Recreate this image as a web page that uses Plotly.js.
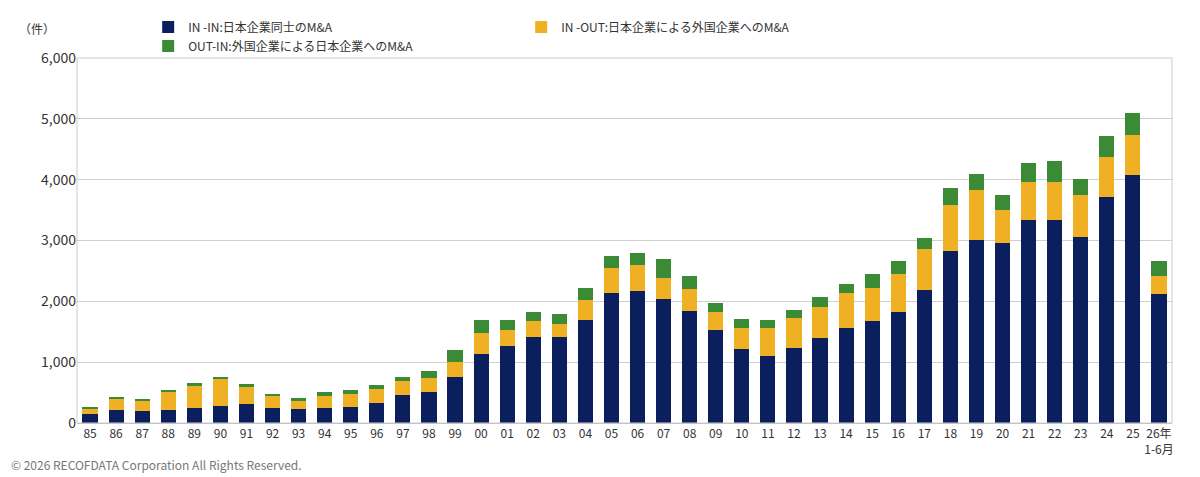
<!DOCTYPE html>
<html><head><meta charset="utf-8">
<script src="https://cdn.plot.ly/plotly-3.0.1.min.js"></script>
<style>body{margin:0;background:#fff}#graph{width:1200px;height:477px}</style>
</head><body><div id="graph"></div>
<script>
// years (tick labels)
let years = ["85","86","87","88","89","90","91","92","93","94","95","96","97","98","99",
  "00","01","02","03","04","05","06","07","08","09","10","11","12","13","14","15","16",
  "17","18","19","20","21","22","23","24","25","26年<br>1-6月"];
// IN-IN
let inIn = [156,220,199,220,242,274,306,253,237,253,263,328,457,516,753,
  1129,1258,1419,1419,1694,2145,2177,2032,1839,1532,1210,1097,1226,1403,1565,1677,1823,
  2194,2823,3016,2952,3339,3339,3065,3710,4081,2113];
// IN-OUT
let inOut = [81,178,167,296,382,452,302,193,118,188,221,237,226,231,258,
  355,274,258,210,322,403,420,355,371,291,355,468,500,500,564,549,629,
  661,758,807,548,629,629,677,661,661,306];
// OUT-IN
let outIn = [21,21,21,11,26,27,32,38,48,70,54,64,75,108,188,
  210,162,146,161,210,194,193,307,209,145,145,129,129,162,161,226,209,
  193,274,274,242,306,338,274,339,355,242];

let graphData = [
  {x: years, y: inIn, type: "bar", name: "IN -IN:日本企業同士のM&A", marker: {color: "#0b1f5e"}},
  {x: years, y: inOut, type: "bar", name: "IN -OUT:日本企業による外国企業へのM&A", marker: {color: "#efb023"}},
  {x: years, y: outIn, type: "bar", name: "OUT-IN:外国企業による日本企業へのM&A", marker: {color: "#3a8a36"}}
];

let layout = {
  barmode: "stack",
  bargap: 0.42,
  width: 1200, height: 477,
  margin: {l: 77, r: 28, t: 51, b: 54},
  font: {family: "Noto Sans CJK JP, Noto Sans, sans-serif", size: 13, color: "#333"},
  showlegend: true,
  legend: {orientation: "h", traceorder: "normal", x: 0.065, y: 1.125, xanchor: "left", yanchor: "top",
    bgcolor: "rgba(0,0,0,0)", font: {size: 12}, itemwidth: 30, entrywidth: 328, entrywidthmode: "pixels"},
  xaxis: {type: "category", tickangle: 0, showline: true, linecolor: "#bbb",
    tickfont: {size: 12}, ticks: "", automargin: false},
  yaxis: {range: [0, 6000], dtick: 1000, tickformat: ",", gridcolor: "#cfcfcf",
    showline: false, zeroline: true, zerolinecolor: "#bbb", tickfont: {size: 14}},
  shapes: [{type: "rect", xref: "paper", yref: "paper", x0: 0, x1: 1, y0: 0, y1: 1,
    line: {color: "#ccc", width: 1}}],
  annotations: [
    {text: "（件）", xref: "paper", yref: "paper", x: -0.055, y: 1.11, xanchor: "left",
      yanchor: "top", showarrow: false, font: {size: 12}},
    {text: "© 2026 RECOFDATA Corporation All Rights Reserved.", xref: "paper", yref: "paper",
      x: -0.062, y: -0.085, xanchor: "left", yanchor: "top", showarrow: false,
      font: {size: 12, color: "#777"}}
  ]
};

Plotly.newPlot("graph", graphData, layout, {displayModeBar: false});
</script></body></html>
